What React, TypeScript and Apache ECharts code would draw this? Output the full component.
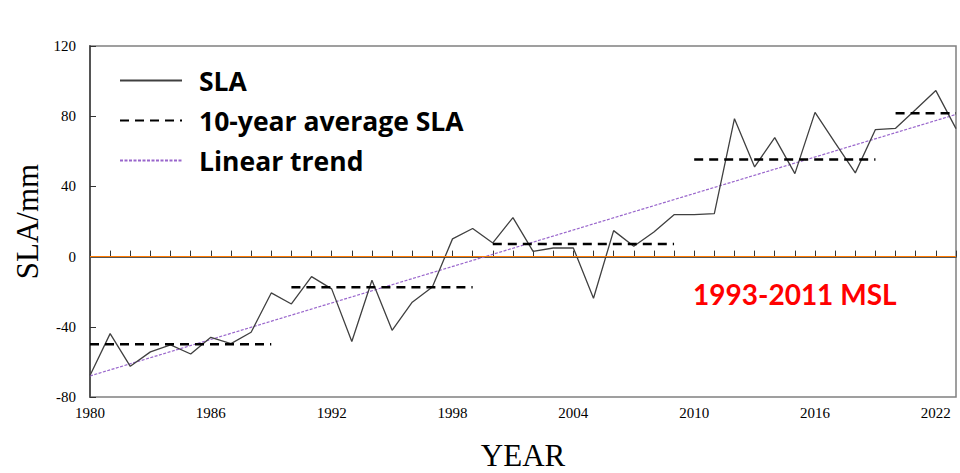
import React, { useEffect, useRef } from "react";
import * as echarts from "echarts";

const years = [
  1980, 1981, 1982, 1983, 1984, 1985, 1986, 1987, 1988, 1989,
  1990, 1991, 1992, 1993, 1994, 1995, 1996, 1997, 1998, 1999,
  2000, 2001, 2002, 2003, 2004, 2005, 2006, 2007, 2008, 2009,
  2010, 2011, 2012, 2013, 2014, 2015, 2016, 2017, 2018, 2019,
  2020, 2021, 2022, 2023,
];
const sla = [
  -67.8, -43.9, -62.5, -54.3, -50.3, -55.5, -46, -49.6, -43.1, -20.7,
  -27, -11.4, -18.4, -48.4, -13.5, -42, -26, -17.3, 10.1, 16,
  7.8, 22.2, 3, 4.9, 4.9, -23.7, 14.8, 5.9, 14, 23.9,
  23.9, 24.5, 78.6, 51.1, 67.8, 47.3, 82.2, 64.8, 47.7, 72.4,
  73.1, 83.8, 94.6, 72.9,
];
const decadeStarts = [1980, 1990, 2000, 2010, 2020];
const decadeEnds = [1989, 1999, 2009, 2019, 2023];
const decadeMeans = [-50, -17.5, 7.2, 55.3, 81.7];
const trendYears = [1980, 2023];
const trendValues = [-68, 81];
const yTicks = [-80, -40, 0, 40, 80, 120];

export default function App() {
  const ref = useRef<HTMLDivElement>(null);
  useEffect(() => {
    if (!ref.current) return;
    const chart = echarts.init(ref.current, null, { renderer: "svg" });
    const avgData: any[] = [];
    decadeStarts.forEach((s, i) => {
      avgData.push([s, decadeMeans[i]]);
      avgData.push([decadeEnds[i], decadeMeans[i]]);
      if (i < decadeStarts.length - 1) avgData.push([decadeEnds[i] + 0.5, "-"]);
    });
    const serif = "'Liberation Serif', 'Times New Roman', serif";
    chart.setOption({
      animation: false,
      backgroundColor: "#ffffff",
      grid: {
        left: 90,
        right: 4,
        top: 46,
        bottom: 76,
        outerBoundsMode: "none",
        containLabel: false,
        show: true,
        borderColor: "#808080",
        borderWidth: 1.5,
      },
      legend: {
        orient: "vertical",
        left: 114,
        top: 62,
        itemWidth: 62,
        itemHeight: 14,
        itemGap: 13,
        itemStyle: { opacity: 0 },
        textStyle: {
          fontSize: 26.5,
          fontWeight: "bold",
          fontFamily: "'Open Sans', Lato, sans-serif",
          color: "#000",
          padding: [0, 0, 0, 12],
        },
        data: ["SLA", "10-year average SLA", "Linear trend"],
      },
      xAxis: {
        type: "value",
        min: 1980,
        max: 2023,
        interval: 1,
        name: "YEAR",
        nameLocation: "middle",
        nameGap: 43,
        nameTextStyle: { fontSize: 31, fontFamily: serif, color: "#000" },
        axisLine: { show: true, lineStyle: { color: "#555", width: 2 } },
        axisTick: { show: true, inside: true, length: 6, lineStyle: { color: "#333" } },
        splitLine: { show: false },
        axisLabel: {
          fontSize: 15,
          fontFamily: serif,
          color: "#000",
          margin: 8,
          formatter: (v: number) => ((v - 1980) % 6 === 0 ? String(v) : ""),
        },
      },
      yAxis: {
        type: "value",
        min: -80,
        max: 120,
        interval: 40,
        name: "SLA/mm",
        nameLocation: "middle",
        nameGap: 46,
        nameTextStyle: { fontSize: 31, fontFamily: serif, color: "#000" },
        axisLine: { show: true, lineStyle: { color: "#555", width: 2 } },
        axisTick: { show: true, inside: true, length: 6, lineStyle: { color: "#333" } },
        splitLine: { show: false },
        axisLabel: {
          fontSize: 15,
          fontFamily: serif,
          color: "#000",
          margin: 14,
          formatter: (v: number) => (yTicks.includes(v) ? String(v) : ""),
        },
      },
      series: [
        {
          name: "SLA",
          type: "line",
          data: years.map((y, i) => [y, sla[i]]),
          symbol: "none",
          lineStyle: { color: "#404040", width: 1.3 },
          itemStyle: { color: "#404040" },
          z: 3,
          markLine: {
            silent: true,
            symbol: "none",
            label: { show: false },
            lineStyle: { color: "#ff7a00", width: 1.2, type: "solid" },
            data: [{ yAxis: 0 }],
          },
        },
        {
          name: "10-year average SLA",
          type: "line",
          data: avgData,
          connectNulls: false,
          symbol: "none",
          lineStyle: { color: "#000", width: 2.5, type: [9, 6] },
          itemStyle: { color: "#000" },
          z: 4,
        },
        {
          name: "Linear trend",
          type: "line",
          data: trendYears.map((y, i) => [y, trendValues[i]]),
          symbol: "none",
          lineStyle: { color: "#9966cc", width: 1.2, type: [3, 1.5] },
          itemStyle: { color: "#9966cc" },
          z: 2,
        },
      ],
      graphic: [
        {
          type: "text",
          left: 693,
          top: 280,
          style: {
            text: "1993-2011 MSL",
            fill: "#ff0000",
            font: "bold 28px Lato, 'Open Sans', sans-serif",
          },
        },
      ],
    });
    return () => chart.dispose();
  }, []);
  return (
    <div
      ref={ref}
      style={{ position: "absolute", left: 0, top: 0, width: 960, height: 473 }}
    />
  );
}
